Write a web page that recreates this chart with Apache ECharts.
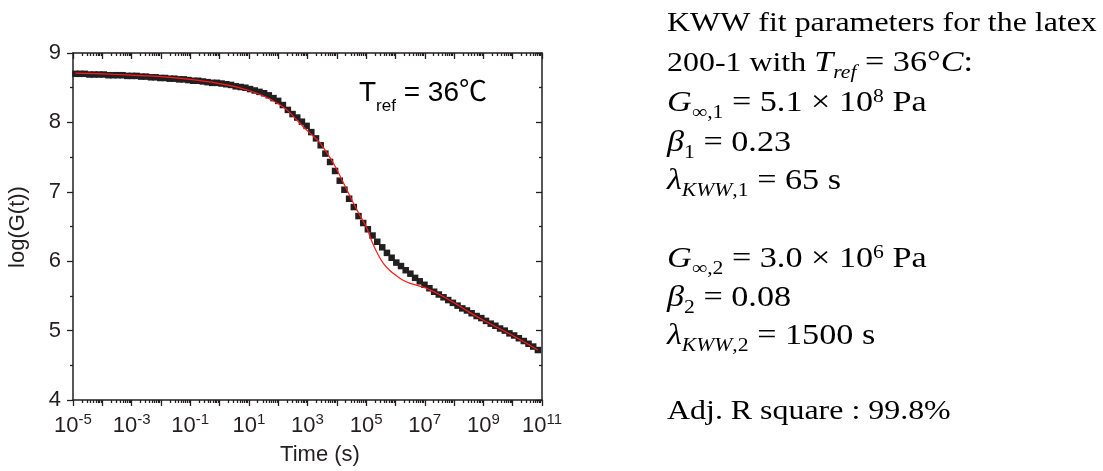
<!DOCTYPE html>
<html><head><meta charset="utf-8">
<script src="https://cdn.jsdelivr.net/npm/echarts@6/dist/echarts.min.js"></script>
<style>html,body{margin:0;padding:0;background:#fff}#c{width:1103px;height:471px}</style>
</head><body><div id="c"></div>
<script>
// ---- data (log10 of time in s, log10 of G(t)) ----
const logTime = [-4.92,-4.76,-4.60,-4.44,-4.28,-4.12,-3.95,-3.79,-3.63,-3.47,-3.31,-3.15,-2.99,-2.83,-2.67,-2.51,-2.34,-2.18,-2.02,-1.86,
  -1.70,-1.54,-1.38,-1.22,-1.06,-0.90,-0.73,-0.57,-0.41,-0.25,-0.09,0.07,0.23,0.39,0.55,0.72,0.88,1.04,1.20,1.36,
  1.52,1.68,1.84,2.00,2.16,2.33,2.49,2.65,2.81,2.97,3.13,3.29,3.45,3.61,3.77,3.94,4.10,4.26,4.42,4.58,
  4.74,4.90,5.06,5.22,5.38,5.55,5.71,5.87,6.03,6.19,6.35,6.51,6.67,6.83,6.99,7.16,7.32,7.48,7.64,7.80,
  7.96,8.12,8.28,8.44,8.60,8.77,8.93,9.09,9.25,9.41,9.57,9.73,9.89,10.05,10.21,10.38,10.54,10.70,10.86];
const logG = [8.70,8.70,8.70,8.69,8.69,8.69,8.69,8.68,8.68,8.68,8.68,8.67,8.67,8.67,8.66,8.66,8.65,8.65,8.64,8.64,
  8.63,8.63,8.62,8.62,8.61,8.60,8.60,8.59,8.58,8.57,8.57,8.56,8.55,8.54,8.52,8.51,8.50,8.48,8.46,8.44,
  8.42,8.39,8.35,8.31,8.25,8.18,8.12,8.07,8.01,7.95,7.86,7.77,7.67,7.55,7.43,7.30,7.16,7.03,6.90,6.78,
  6.65,6.55,6.46,6.37,6.28,6.20,6.12,6.05,5.98,5.93,5.87,5.82,5.76,5.71,5.66,5.61,5.56,5.52,5.48,5.44,
  5.40,5.36,5.32,5.29,5.25,5.21,5.18,5.14,5.10,5.07,5.03,5.00,4.96,4.93,4.89,4.85,4.81,4.77,4.72];
const fitLogTime = [-4.92,-4.0,-3.0,-2.0,-1.0,0.0,0.5,1.0,1.5,2.0,2.3,2.6,2.9,3.2,3.4,3.6,3.8,4.0,4.2,4.4,
  4.6,4.8,5.0,5.2,5.4,5.6,5.8,6.0,6.2,6.5,7.0,7.5,8.0,8.5,9.0,9.5,10.0,10.5,10.86];
const fitLogG = [8.71,8.70,8.68,8.66,8.62,8.56,8.52,8.46,8.38,8.27,8.18,8.05,7.92,7.80,7.72,7.60,7.47,7.32,7.15,6.98,
  6.81,6.65,6.50,6.28,6.10,5.96,5.87,5.80,5.74,5.68,5.62,5.52,5.40,5.27,5.15,5.04,4.93,4.81,4.72];
const xLabelExponents = [-5,-3,-1,1,3,5,7,9,11];
const yLabels = [4,5,6,7,8,9];
const xTitle = 'Time (s)';
const yTitle = 'log(G(t))';
const tempNote = '{t|T}{ts|ref}{t| = 36℃}';
const paramLines = [
  '{r|KWW fit parameters for the latex}',
  '{r|200-1 with }{i|T}{isub|ref}{m| = 36°}{i|C}{m|:}',
  '{i|G}{sub|∞,1}{m| = 5.1 × 10}{sup|8}{m| Pa}',
  '{i|β}{sub|1}{m| = 0.23}',
  '{i|λ}{isub|KWW}{sub|,1}{m| = 65 s}',
  '{i|G}{sub|∞,2}{m| = 3.0 × 10}{sup|6}{m| Pa}',
  '{i|β}{sub|2}{m| = 0.08}',
  '{i|λ}{isub|KWW}{sub|,2}{m| = 1500 s}',
  '{r|Adj. R square : 99.8%}'
];
const paramBaselines = [32,72,112,152,190,268,307,345,420];

// ---- chart ----
const ink = '#231f20';
const sans = '"Liberation Sans", Arial, "Noto Sans CJK SC", sans-serif';
const serif = '"Liberation Serif", "Times New Roman", serif';
const minorX = [];
for (let n = -5; n < 11; n++) for (let k = 2; k <= 9; k++) minorX.push(n + Math.log10(k));

const chart = echarts.init(document.getElementById('c'), null, {renderer: 'canvas'});
const axisLine = {show: true, onZero: false, lineStyle: {color: ink, width: 1.5}};
const tickStyle = {color: ink, width: 1.3};
const xBase = {type: 'value', min: -5, max: 11, interval: 1, splitLine: {show: false}, axisLine: axisLine};
const yBase = {type: 'value', min: 4, max: 9, interval: 1, splitLine: {show: false}, axisLine: axisLine};

const rich = {
  r: {fontFamily: serif, fontSize: 28, lineHeight: 40, color: ink, verticalAlign: 'middle'},
  m: {fontFamily: serif, fontSize: 30, lineHeight: 40, color: ink, verticalAlign: 'middle'},
  i: {fontFamily: serif, fontStyle: 'italic', fontSize: 30, lineHeight: 40, color: ink, verticalAlign: 'middle'},
  sub: {fontFamily: serif, fontSize: 19, lineHeight: 40, height: 21.6, color: ink, verticalAlign: 'bottom'},
  isub: {fontFamily: serif, fontStyle: 'italic', fontSize: 19, lineHeight: 40, height: 21.6, color: ink, verticalAlign: 'bottom'},
  sup: {fontFamily: serif, fontSize: 19, lineHeight: 40, height: 27.4, color: ink, verticalAlign: 'top'}
};

const graphics = [
  {type: 'text', x: 320, y: 455, style: {text: xTitle, fontFamily: sans, fontSize: 22, fill: ink, align: 'center', verticalAlign: 'middle'}},
  {type: 'text', x: 18, y: 227, rotation: Math.PI / 2, style: {text: yTitle, fontFamily: sans, fontSize: 22, fill: ink, align: 'center', verticalAlign: 'middle'}},
  {type: 'text', x: 359, y: 93, style: {text: tempNote, align: 'left', verticalAlign: 'middle', rich: {
    t: {fontFamily: sans, fontSize: 28, lineHeight: 34, color: ink, verticalAlign: 'middle'},
    ts: {fontFamily: sans, fontSize: 17, lineHeight: 34, height: 7, color: ink, verticalAlign: 'bottom'}
  }}}
];
paramLines.forEach((line, i) => {
  graphics.push({type: 'text', x: 667, y: paramBaselines[i] - 8.4, scaleX: 1.14, scaleY: 1,
    style: {text: line, align: 'left', verticalAlign: 'middle', rich: rich}});
});

chart.setOption({
  animation: false,
  backgroundColor: '#fff',
  grid: {left: 73, top: 53, width: 469, height: 347, containLabel: false},
  xAxis: [
    Object.assign({}, xBase, {position: 'bottom',
      axisTick: {show: true, inside: false, length: 6, lineStyle: tickStyle},
      axisLabel: {show: true, margin: 14, interval: 0, showMinLabel: true, showMaxLabel: true,
        formatter: v => xLabelExponents.includes(Math.round(v)) ? '{b|10}{s|' + Math.round(v) + '}' : '',
        rich: {
          b: {fontFamily: sans, fontSize: 22, lineHeight: 24, color: ink, verticalAlign: 'middle'},
          s: {fontFamily: sans, fontSize: 15, lineHeight: 24, height: 12.4, color: ink, verticalAlign: 'top'}
        }}}),
    Object.assign({}, xBase, {position: 'bottom', axisLine: {show: false},
      axisTick: {show: true, inside: false, length: 3, customValues: minorX, lineStyle: tickStyle},
      axisLabel: {show: false}}),
    Object.assign({}, xBase, {position: 'top',
      axisTick: {show: true, inside: true, length: 6, lineStyle: tickStyle}, axisLabel: {show: false}}),
    Object.assign({}, xBase, {position: 'top', axisLine: {show: false},
      axisTick: {show: true, inside: true, length: 3, customValues: minorX, lineStyle: tickStyle},
      axisLabel: {show: false}})
  ],
  yAxis: [
    Object.assign({}, yBase, {position: 'left',
      axisTick: {show: true, inside: false, length: 6, lineStyle: tickStyle},
      minorTick: {show: true, splitNumber: 2, length: 3, lineStyle: tickStyle},
      axisLabel: {show: true, margin: 12, fontFamily: sans, fontSize: 22, color: ink,
        formatter: v => yLabels.includes(v) ? String(v) : ''}}),
    Object.assign({}, yBase, {position: 'right',
      axisTick: {show: true, inside: true, length: 6, lineStyle: tickStyle},
      minorTick: {show: true, splitNumber: 2, length: 3, lineStyle: tickStyle},
      axisLabel: {show: false}})
  ],
  series: [
    {type: 'scatter', xAxisIndex: 0, yAxisIndex: 0, symbol: 'rect', symbolSize: 6.5,
      itemStyle: {color: ink, opacity: 1}, data: logTime.map((t, i) => [t, logG[i]]), z: 2},
    {type: 'line', xAxisIndex: 0, yAxisIndex: 0, showSymbol: false, symbol: 'none', smooth: 0.3,
      lineStyle: {color: '#ff1a1a', width: 1.2}, data: fitLogTime.map((t, i) => [t, fitLogG[i]]), z: 3}
  ],
  graphic: graphics
});
</script></body></html>
